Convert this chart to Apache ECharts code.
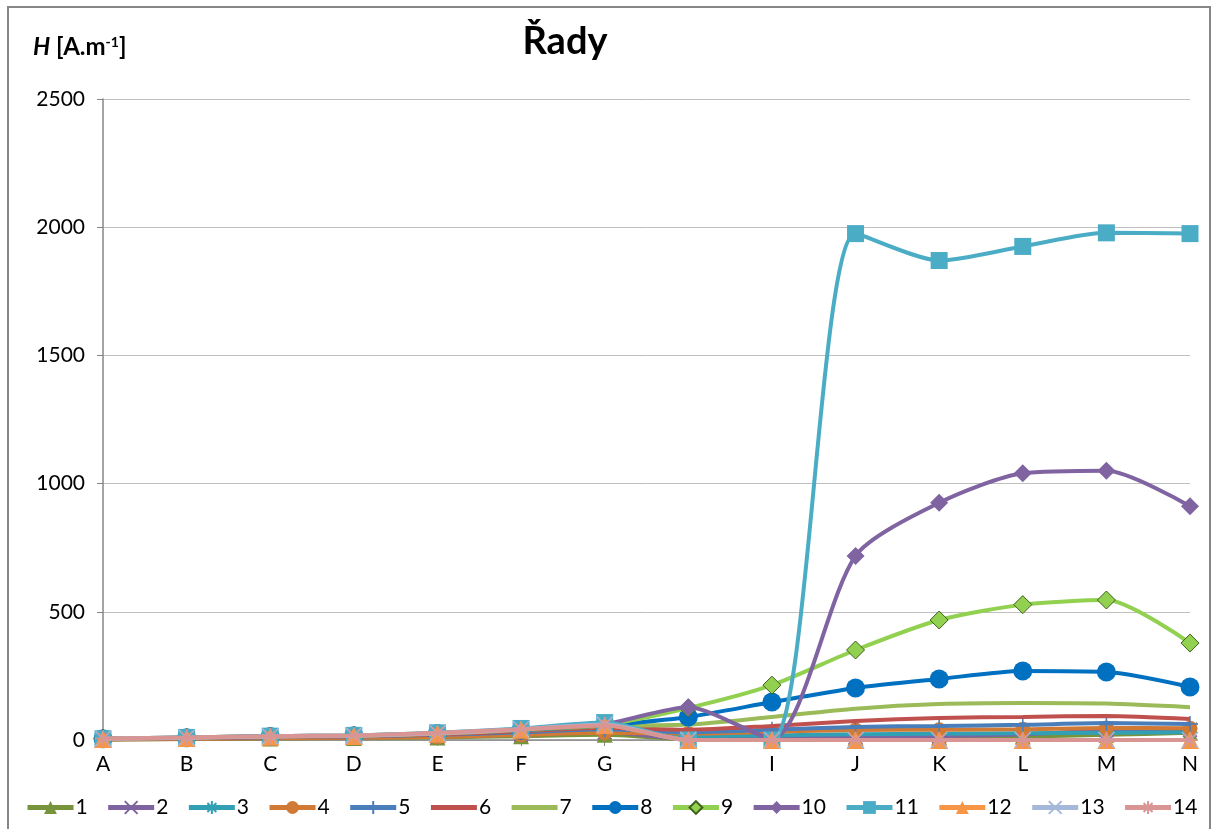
<!DOCTYPE html>
<html><head><meta charset="utf-8">
<script src="https://cdn.jsdelivr.net/npm/echarts@6/dist/echarts.min.js"></script>
<style>html,body{margin:0;padding:0;background:#fff}#c{width:1224px;height:829px}</style>
</head><body><div id="c"></div>
<script>
const categories = ['A','B','C','D','E','F','G','H','I','J','K','L','M','N'];
const yTicks = [0, 500, 1000, 1500, 2000, 2500];
const seriesNames = ['1','2','3','4','5','6','7','8','9','10','11','12','13','14'];
const s1  = [2, 4, 6, 8, 10, 15, 20, 3, 5, 8, 10, 14, 20, 28];
const s2  = [3, 5, 8, 10, 14, 22, 30, 5, 8, 12, 15, 22, 38, 40];
const s3  = [3, 6, 10, 12, 18, 28, 38, 15, 18, 22, 24, 26, 28, 30];
const s4  = [2, 4, 7, 9, 12, 20, 28, 25, 32, 39, 40, 42, 47, 46];
const s5  = [4, 7, 11, 14, 20, 30, 42, 30, 40, 51, 55, 59, 66, 62];
const s6  = [4, 8, 12, 15, 22, 34, 48, 40, 55, 74, 86, 90, 94, 82];
const s7  = [5, 9, 14, 17, 25, 38, 55, 60, 90, 122, 140, 144, 142, 128];
const s8  = [5, 9, 14, 17, 25, 38, 58, 90, 148, 203, 238, 269, 265, 207];
const s9  = [5, 10, 15, 18, 26, 40, 60, 125, 214, 351, 468, 528, 546, 378];
const s10 = [5, 10, 15, 18, 26, 40, 62, 128, 5, 718, 925, 1040, 1050, 912];
const s11 = [5, 10, 15, 18, 28, 45, 68, 0, 0, 1975, 1870, 1925, 1978, 1975];
const s12 = [4, 8, 13, 16, 24, 40, 58, 0, 0, 0, 0, 0, 0, 0];
const s13 = [5, 9, 14, 17, 26, 42, 60, 0, 0, 0, 0, 0, 0, 0];
const s14 = [6, 10, 15, 18, 28, 42, 58, 0, 0, 0, 0, 0, 0, 0];
const values = [s1,s2,s3,s4,s5,s6,s7,s8,s9,s10,s11,s12,s13,s14];

const colors = ['#77933C','#7F62A0','#31A0B4','#D07A35','#4A7EBB','#C0504D','#9BBB59','#0070C0','#92D050','#8064A2','#4BACC6','#F79646','#A5B8DA','#D99594'];
const X = 'path://M0,0L10,10M10,0L0,10';
const AST = 'path://M5,0L5,10M0,5L10,5M1.5,1.5L8.5,8.5M8.5,1.5L1.5,8.5';
const PLUS = 'path://M5,0L5,10M0,5L10,5';
const markers = [
  {s:'triangle', z:16, stroke:false},
  {s:X, z:14, stroke:true},
  {s:AST, z:14, stroke:true},
  {s:'circle', z:15, stroke:false},
  {s:PLUS, z:16, stroke:true},
  {s:'none', z:0},
  {s:'none', z:0},
  {s:'circle', z:19, stroke:false},
  {s:'diamond', z:18, stroke:false, border:'#3F5F1F'},
  {s:'diamond', z:18, stroke:false},
  {s:'rect', z:17, stroke:false},
  {s:'triangle', z:18, stroke:false},
  {s:X, z:16, stroke:true},
  {s:AST, z:16, stroke:true}
];

const series = seriesNames.map((n,i)=>{
  const m = markers[i];
  const o = {
    name:n, type:'line', data: values[i], smooth:0.25,
    symbol:m.s, symbolSize:m.z, showSymbol: m.s!=='none',
    lineStyle:{color:colors[i], width:4},
    z: 2+i
  };
  if (m.stroke) o.itemStyle = {color:'rgba(0,0,0,0)', borderColor:colors[i], borderWidth:1.5};
  else if (m.border) o.itemStyle = {color:colors[i], borderColor:m.border, borderWidth:1};
  else o.itemStyle = {color:colors[i]};
  o.emphasis = {disabled:true};
  return o;
});

const legendData = seriesNames.map((n,i)=>{
  const m = markers[i];
  if (m.s === 'none') return {name:n, itemStyle:{color:'rgba(0,0,0,0)', borderWidth:0}};
  return {name:n};
});

const chart = echarts.init(document.getElementById('c'));
const font = 'Lato, "Open Sans", "Liberation Sans", sans-serif';
chart.setOption({
  animation:false,
  backgroundColor:'#fff',
  textStyle:{fontFamily:font},
  title:[
    {text:'Řady', left:560, top:18, textAlign:'center', textStyle:{fontSize:38, fontWeight:'bold', color:'#000', fontFamily:font}},
    {text:'{i|H} [A.m{s|-1}]', left:28, top:30, textStyle:{rich:{
      i:{fontStyle:'italic', fontWeight:'bold', fontSize:24, color:'#000', fontFamily:font},
      s:{fontSize:14, fontWeight:'bold', verticalAlign:'top', color:'#000', padding:[0,0,10,0], fontFamily:font}
    }, fontSize:24, fontWeight:'bold', color:'#000', fontFamily:font}}
  ],
  graphic:[{type:'rect', shape:{x:8, y:7, width:1202, height:830}, style:{fill:'none', stroke:'#868686', lineWidth:2}, silent:true}],
  grid:{left:103, right:34, top:99, bottom:89, containLabel:false},
  legend:{
    data: legendData, left:20, bottom:6, width:1200, itemWidth:46, itemHeight:16, itemGap:18,
    lineStyle:{width:5},
    textStyle:{fontSize:21, color:'#000', fontFamily:font, padding:[0,0,0,-3]}
  },
  xAxis:{
    type:'category', data:categories, boundaryGap:false,
    axisLine:{lineStyle:{color:'#868686', width:1.5}},
    axisTick:{show:true, alignWithLabel:true, length:6, lineStyle:{color:'#868686'}},
    axisLabel:{fontSize:21, color:'#000', margin:14}
  },
  yAxis:{
    type:'value', min:0, max:2500, interval:500,
    axisLine:{show:true, lineStyle:{color:'#868686', width:1.5}},
    axisTick:{show:true, length:6, lineStyle:{color:'#868686'}},
    axisLabel:{fontSize:21, color:'#000', margin:18, formatter:(v)=>String(v)},
    splitLine:{lineStyle:{color:'#BFBFBF', width:1}}
  },
  series: series
});
</script></body></html>
